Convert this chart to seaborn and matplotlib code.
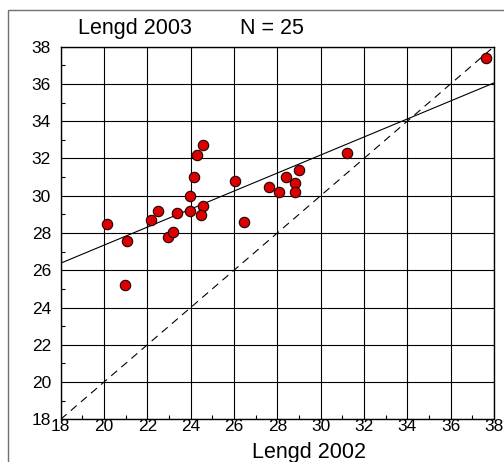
import numpy as np
import pandas as pd
import seaborn as sns
import matplotlib
matplotlib.use("Agg")
from matplotlib import pyplot as plt
from matplotlib.patches import Rectangle
from matplotlib.ticker import MultipleLocator

# Lengd 2002 (x) vs Lengd 2003 (y), 25 fish
lengd_2002 = [20.15, 21.07, 20.95, 22.17, 22.48, 22.97, 23.18, 23.38, 23.97, 23.97,
              24.17, 24.28, 24.58, 24.58, 24.47, 26.06, 26.47, 27.60, 28.09, 28.40,
              28.80, 28.80, 29.00, 31.20, 37.63]
lengd_2003 = [28.48, 27.59, 25.19, 28.70, 29.20, 27.79, 28.07, 29.09, 29.97, 29.20,
              30.99, 32.19, 32.71, 29.47, 28.98, 30.79, 28.59, 30.49, 30.20, 30.99,
              30.70, 30.20, 31.38, 32.28, 37.38]
axis_min, axis_max = 18, 38

df = pd.DataFrame({"x": lengd_2002, "y": lengd_2003})

sns.set_style("white")
plt.rcParams["font.family"] = ["Liberation Sans", "DejaVu Sans"]
plt.rcParams["text.color"] = "black"
plt.rcParams["axes.labelcolor"] = "black"

fig = plt.figure(figsize=(5.04, 4.62), dpi=100)
ax = fig.add_axes([0.1204, 0.0924, 0.8596, 0.8066])

ax.set_xlim(axis_min, axis_max)
ax.set_ylim(axis_min, axis_max)

# 1:1 line
ax.plot([axis_min, axis_max], [axis_min, axis_max], color="black", lw=0.8,
        linestyle=(0, (7, 5)), zorder=2)

# regression line over the full axis range
sns.regplot(data=df, x="x", y="y", ax=ax, ci=None, truncate=False, scatter=False,
            line_kws={"color": "black", "lw": 0.8, "zorder": 2})

sns.scatterplot(data=df, x="x", y="y", ax=ax, color="#dd0000", edgecolor="#200000",
                linewidth=0.8, s=56, zorder=3)

ax.xaxis.set_major_locator(MultipleLocator(2))
ax.yaxis.set_major_locator(MultipleLocator(2))
ax.xaxis.set_minor_locator(MultipleLocator(1))
ax.yaxis.set_minor_locator(MultipleLocator(1))
ax.grid(True, which="major", color="black", lw=0.8)
ax.tick_params(which="major", length=0, labelsize=12.5, colors="black")
ax.tick_params(axis="x", which="major", pad=0)
ax.tick_params(axis="y", which="major", pad=7)
ax.tick_params(which="minor", direction="in", length=3, width=0.8, color="black",
               bottom=True, left=True)
for sp in ax.spines.values():
    sp.set_color("black")
    sp.set_linewidth(1.0)

ax.set_xlabel("Lengd 2002", fontsize=15.5, color="black")
ax.xaxis.set_label_coords(0.573, -0.104)
ax.xaxis.label.set_va("baseline")
ax.set_ylabel("")

fig.text(78 / 504, 1 - 34 / 462, "Lengd 2003", fontsize=15.5, va="baseline", color="black")
fig.text(240 / 504, 1 - 34 / 462, "N = 25", fontsize=15.5, va="baseline", color="black")

fig.patches.append(Rectangle((8 / 504, -0.05), 1.0, 1.05 - 10 / 462,
                             transform=fig.transFigure, fill=False,
                             edgecolor="#707070", lw=1.0))

fig.savefig("out.png", dpi=100)
